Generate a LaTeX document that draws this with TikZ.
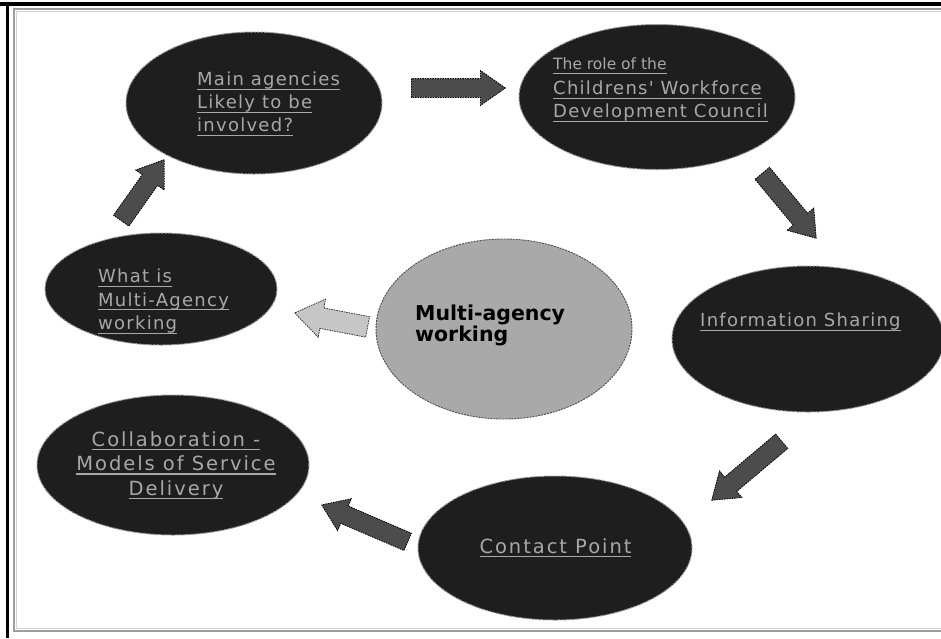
\documentclass[tikz,border=0pt]{standalone}
\usepackage{fontspec}
\usetikzlibrary{shapes.geometric,shapes.arrows,calc}
\setmainfont{DejaVu Sans}
\newfontfamily\lblfont[LetterSpace=7]{DejaVu Sans}
\newfontfamily\bigfont[LetterSpace=10]{DejaVu Sans}
\newfontfamily\plainfont{DejaVu Sans}
\definecolor{ellfill}{HTML}{1E1E1E}
\definecolor{ellline}{HTML}{9A9A9A}
\definecolor{lbltxt}{HTML}{A8A8A8}
\definecolor{ctrfill}{HTML}{A9A9A9}
\definecolor{arrfill}{HTML}{4C4C4C}
\definecolor{arrlight}{HTML}{C6C6C6}
\newcommand\ulin[1]{\setbox0\hbox{#1}\leavevmode\rlap{\rule[-4pt]{\wd0}{1.1pt}}\box0}
\newcommand\blockarrow[3][darkarrow]{%
  \path let \p1=(#2), \p2=(#3), \n1={atan2(\y2-\y1,\x2-\x1)}, \n2={veclen(\x2-\x1,\y2-\y1)} in
    node[#1, minimum height=\n2, rotate=\n1, anchor=tail] at (#2) {};}
\begin{document}
\begin{tikzpicture}[x=1pt,y=-1pt,
  darkell/.style={ellipse, fill=ellfill, draw=ellline, line width=1pt, dash pattern=on 2.5pt off 1pt, inner sep=0pt},
  ctrell/.style={ellipse, fill=ctrfill, draw=black!70, line width=0.9pt, dash pattern=on 2pt off 1pt, inner sep=0pt},
  lbl/.style={text=lbltxt, inner sep=0pt, font=\lblfont\fontsize{18}{23}\selectfont, align=left},
  arrbase/.style={single arrow, inner xsep=0pt, inner ysep=0pt, text height=18pt, text depth=0pt,
     single arrow head extend=8pt, single arrow tip angle=70, draw=black, line width=0.8pt, dash pattern=on 1.5pt off 1pt},
  darkarrow/.style={arrbase, fill=arrfill},
  lightarrow/.style={arrbase, fill=arrlight, text height=20pt, single arrow head extend=9pt, draw=black!80}]
% canvas
\fill[white] (0,0) rectangle (941,638);
\useasboundingbox (0,0) rectangle (941,638);
\fill[black] (0,2) rectangle (941,6);
\fill[black] (6,2) rectangle (9,638);
\draw[gray!75, line width=2pt] (941,9) -- (14,9) -- (14,631) -- (941,631);
\draw[gray!35, line width=0.8pt] (941,11.5) -- (16.5,11.5) -- (16.5,628.5) -- (941,628.5);

% ellipses
\node[darkell, minimum width=256, minimum height=142] (e1) at (254,103) {};
\node[darkell, minimum width=276, minimum height=145] (e2) at (657,97) {};
\node[darkell, minimum width=232, minimum height=112] (e3) at (161,289) {};
\node[ctrell,  minimum width=256, minimum height=180] (e4) at (504,329) {};
\node[darkell, minimum width=272, minimum height=146] (e5) at (808,339) {};
\node[darkell, minimum width=272, minimum height=140] (e6) at (173,465) {};
\node[darkell, minimum width=274, minimum height=144] (e7) at (555,548) {};

% labels
\node[lbl, anchor=north west] (t1) at (197,72) {\ulin{Main agencies}\\\ulin{Likely to be}\\\ulin{involved?}};
\node[lbl, anchor=north west, font=\plainfont\fontsize{15.5}{17}\selectfont] (t2a) at (553,58) {\ulin{The role of the}};
\node[lbl, anchor=north west] (t2) at (553,81) {\ulin{Childrens' Workforce}\\\ulin{Development Council}};
\node[lbl, anchor=north west, font=\lblfont\fontsize{18}{23.5}\selectfont] (t3) at (98,269) {\ulin{What is}\\\ulin{Multi-Agency}\\\ulin{working}};
\node[anchor=north west, inner sep=0pt, align=left, text=black, font=\plainfont\bfseries\fontsize{20.5}{19.5}\selectfont] (t4) at (415,305) {Multi-agency\\working};
\node[lbl, anchor=north west] (t5) at (700,313) {\ulin{Information Sharing}};
\node[lbl, anchor=north, align=center, font=\bigfont\fontsize{19.5}{24.5}\selectfont] (t6) at (176,431) {\ulin{Collaboration -}\\\ulin{Models of Service}\\\ulin{Delivery}};
\node[lbl, anchor=north, font=\bigfont\fontsize{19.5}{24.5}\selectfont] (t7) at (555.5,538) {\ulin{Contact Point}};

% arrow end points
\coordinate (a1s) at (411,88);  \coordinate (a1e) at (505,88);
\coordinate (a2s) at (762,173); \coordinate (a2e) at (816,238);
\coordinate (a3s) at (782,441); \coordinate (a3e) at (712,500);
\coordinate (a4s) at (408,542); \coordinate (a4e) at (322,505);
\coordinate (a5s) at (368,327); \coordinate (a5e) at (295,313);
\coordinate (a6s) at (121,221); \coordinate (a6e) at (164,160);

\blockarrow{a1s}{a1e}
\blockarrow{a2s}{a2e}
\blockarrow{a3s}{a3e}
\blockarrow{a4s}{a4e}
\blockarrow[lightarrow]{a5s}{a5e}
\blockarrow{a6s}{a6e}
\end{tikzpicture}
\end{document}
